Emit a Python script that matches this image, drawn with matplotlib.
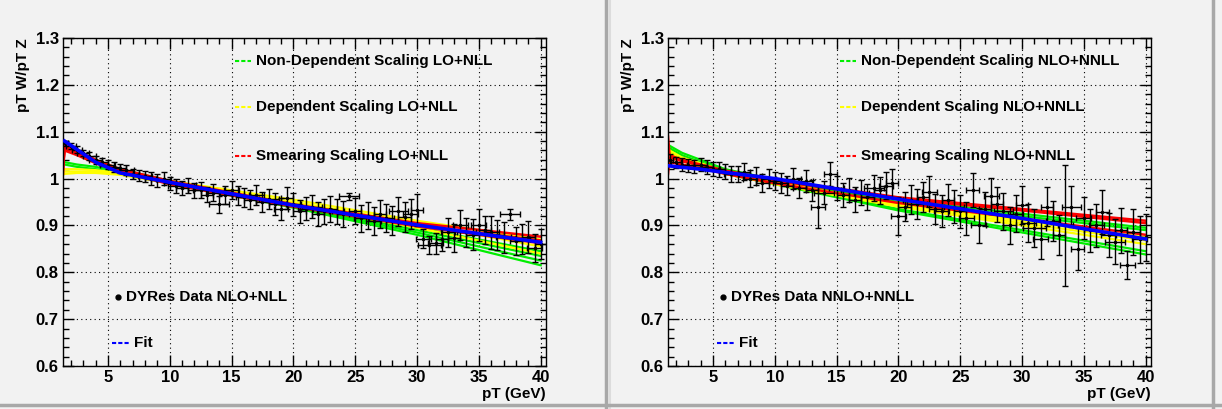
import numpy as np
import matplotlib
matplotlib.use("Agg")
import matplotlib.pyplot as plt
from matplotlib.lines import Line2D
from matplotlib.ticker import MultipleLocator

plt.rcParams['font.family'] = ['Liberation Sans', 'DejaVu Sans']
plt.rcParams['font.weight'] = 'bold'

# ---- data ----
pt = [1.5, 2.0, 2.5, 3.0, 3.5, 4.0, 4.5, 5.0, 5.5, 6.0, 6.5, 7.0, 7.5, 8.0, 8.5, 9.0,
      9.5, 10.0, 10.5, 11.0, 11.5, 12.0, 12.5, 13.0, 13.5, 14.0, 14.5, 15.0, 15.5, 16.0,
      16.5, 17.0, 17.5, 18.0, 18.5, 19.0, 19.5, 20.0, 20.5, 21.0, 21.5, 22.0, 22.5, 23.0,
      23.5, 24.0, 24.5, 25.0, 25.5, 26.0, 26.5, 27.0, 27.5, 28.0, 28.5, 29.0, 29.5, 30.0,
      30.5, 31.0, 31.5, 32.0, 32.5, 33.0, 33.5, 34.0, 34.5, 35.0, 35.5, 36.0, 36.5, 37.0,
      37.5, 38.0, 38.5, 39.0, 39.5, 40.0]
pt_err = [0.3, 0.4, 0.4, 0.5, 0.5, 0.5, 0.5, 0.6, 0.5, 0.5, 0.6, 0.5, 0.5, 0.6, 0.5, 0.5,
          0.6, 0.5, 0.6, 0.5, 0.6, 0.5, 0.6, 0.5, 0.6, 0.8, 0.5, 0.6, 0.5, 0.6,
          0.5, 0.6, 0.5, 0.8, 0.5, 0.6, 0.5, 0.6, 0.5, 0.6, 0.8, 0.5, 0.6, 0.5,
          0.6, 0.5, 0.8, 0.5, 0.6, 0.5, 0.6, 0.5, 0.6, 0.5, 0.8, 0.5, 0.6, 0.5,
          0.6, 0.9, 0.6, 0.5, 0.6, 0.5, 0.6, 0.8, 0.5, 0.6, 0.5, 0.6, 0.5, 0.6,
          0.8, 0.5, 0.6, 0.5, 0.6, 0.5]

nlo_y = [1.075, 1.07, 1.062, 1.055, 1.048, 1.04, 1.035, 1.03, 1.025, 1.022, 1.018, 1.01,
         1.006, 1.005, 1.0, 0.996, 1.0, 0.99, 0.985, 0.98, 0.986, 0.975, 0.976, 0.966,
         0.97, 0.945, 0.965, 0.975, 0.964, 0.96, 0.955, 0.965, 0.95, 0.956, 0.946, 0.935,
         0.958, 0.945, 0.93, 0.936, 0.94, 0.925, 0.93, 0.935, 0.93, 0.924, 0.962, 0.93,
         0.915, 0.921, 0.91, 0.925, 0.915, 0.91, 0.93, 0.918, 0.925, 0.933, 0.872, 0.858,
         0.862, 0.87, 0.885, 0.874, 0.9, 0.885, 0.88, 0.9, 0.89, 0.885, 0.88, 0.875,
         0.924, 0.866, 0.87, 0.876, 0.852, 0.86]
nlo_err = [0.006, 0.006, 0.007, 0.007, 0.008, 0.008, 0.009, 0.009, 0.01, 0.01, 0.011,
           0.011, 0.012, 0.012, 0.013, 0.013, 0.014, 0.014, 0.015, 0.015, 0.016, 0.016,
           0.017, 0.017, 0.018, 0.018, 0.019, 0.019, 0.02, 0.02, 0.021, 0.021, 0.022,
           0.022, 0.023, 0.023, 0.024, 0.024, 0.025, 0.025, 0.025, 0.026, 0.026, 0.027,
           0.027, 0.028, 0.008, 0.028, 0.029, 0.029, 0.03, 0.03, 0.03, 0.031, 0.031, 0.032,
           0.032, 0.035, 0.02, 0.02, 0.022, 0.025, 0.03, 0.03, 0.032, 0.03, 0.033, 0.034,
           0.03, 0.035, 0.032, 0.033, 0.012, 0.03, 0.032, 0.034, 0.03, 0.032]

nnlo_y = [1.04, 1.035, 1.03, 1.028, 1.025, 1.03, 1.025, 1.02, 1.02, 1.015, 1.01, 1.01,
          1.015, 1.0, 1.005, 0.99, 1.0, 0.995, 0.99, 0.985, 1.0, 0.98, 0.995, 0.975,
          0.94, 0.97, 1.01, 0.98, 0.965, 0.975, 0.955, 0.97, 0.96, 0.98, 0.975, 0.985,
          0.99, 0.92, 0.94, 0.955, 0.945, 0.96, 0.972, 0.935, 0.93, 0.955, 0.94, 0.93,
          0.915, 0.975, 0.9, 0.935, 0.963, 0.945, 0.93, 0.9, 0.925, 0.944, 0.905, 0.895,
          0.87, 0.94, 0.91, 0.88, 0.9, 0.94, 0.85, 0.915, 0.89, 0.9, 0.928, 0.88, 0.865,
          0.89, 0.816, 0.885, 0.87, 0.875]
nnlo_err = [0.012, 0.012, 0.013, 0.013, 0.014, 0.014, 0.015, 0.015, 0.016, 0.016, 0.017,
            0.017, 0.018, 0.018, 0.019, 0.019, 0.02, 0.02, 0.021, 0.021, 0.022, 0.022,
            0.023, 0.023, 0.045, 0.024, 0.025, 0.025, 0.026, 0.026, 0.027, 0.027, 0.028,
            0.028, 0.029, 0.029, 0.03, 0.04, 0.031, 0.031, 0.032, 0.032, 0.033, 0.033,
            0.034, 0.034, 0.035, 0.035, 0.036, 0.036, 0.037, 0.037, 0.038, 0.038, 0.039,
            0.039, 0.04, 0.04, 0.041, 0.041, 0.042, 0.042, 0.043, 0.043, 0.13, 0.044,
            0.045, 0.045, 0.046, 0.046, 0.047, 0.047, 0.048, 0.048, 0.03, 0.049, 0.05, 0.05]

# theory curves: values at knots
knots = [1.37, 1.5, 2.5, 4.0, 6.0, 10.0, 20.0, 30.0, 40.0]

lo_green = [
    [1.08, 1.08, 1.06, 1.04, 1.02, 0.995, 0.945, 0.895, 0.845],
    [1.075, 1.07, 1.055, 1.035, 1.018, 0.993, 0.942, 0.89, 0.835],
    [1.04, 1.035, 1.03, 1.025, 1.015, 0.99, 0.94, 0.885, 0.825],
    [1.03, 1.03, 1.025, 1.02, 1.012, 0.99, 0.938, 0.88, 0.815],
]
lo_yellow = [
    [1.02, 1.02, 1.02, 1.018, 1.012, 0.995, 0.955, 0.91, 0.87],
    [1.012, 1.015, 1.015, 1.015, 1.01, 0.992, 0.95, 0.905, 0.855],
    [1.008, 1.01, 1.012, 1.012, 1.008, 0.99, 0.945, 0.895, 0.84],
]
lo_red = [
    [1.01, 1.07, 1.06, 1.04, 1.02, 0.995, 0.945, 0.905, 0.876],
    [1.02, 1.065, 1.055, 1.035, 1.017, 0.99, 0.942, 0.9, 0.868],
    [1.03, 1.06, 1.05, 1.033, 1.015, 0.988, 0.94, 0.898, 0.862],
]
lo_fit = [1.082, 1.08, 1.062, 1.035, 1.012, 0.992, 0.943, 0.901, 0.864]

nlo_green = [
    [1.075, 1.07, 1.055, 1.04, 1.02, 0.998, 0.955, 0.925, 0.895],
    [1.07, 1.065, 1.05, 1.035, 1.017, 0.995, 0.95, 0.92, 0.89],
    [1.065, 1.06, 1.045, 1.03, 1.013, 0.99, 0.935, 0.89, 0.845],
    [1.06, 1.055, 1.04, 1.027, 1.01, 0.988, 0.932, 0.885, 0.838],
]
nlo_yellow = [
    [1.065, 1.06, 1.045, 1.033, 1.015, 0.993, 0.945, 0.91, 0.875],
    [1.06, 1.055, 1.04, 1.03, 1.013, 0.99, 0.942, 0.905, 0.868],
    [1.055, 1.05, 1.037, 1.027, 1.01, 0.988, 0.94, 0.9, 0.86],
]
nlo_red = [
    [1.09, 1.05, 1.04, 1.03, 1.017, 0.998, 0.96, 0.935, 0.91],
    [1.01, 1.045, 1.037, 1.028, 1.015, 0.996, 0.957, 0.932, 0.905],
    [1.03, 1.035, 1.03, 1.022, 1.01, 0.99, 0.948, 0.915, 0.88],
]
nlo_fit = [1.028, 1.027, 1.024, 1.02, 1.013, 1.0, 0.956, 0.915, 0.871]

panels = [
    dict(y=nlo_y, err=nlo_err, green=lo_green, yellow=lo_yellow, red=lo_red, fit=lo_fit,
         labels=['Non-Dependent Scaling LO+NLL', 'Dependent Scaling LO+NLL',
                 'Smearing Scaling LO+NLL', 'DYRes Data NLO+NLL', 'Fit']),
    dict(y=nnlo_y, err=nnlo_err, green=nlo_green, yellow=nlo_yellow, red=nlo_red, fit=nlo_fit,
         labels=['Non-Dependent Scaling NLO+NNLL', 'Dependent Scaling NLO+NNLL',
                 'Smearing Scaling NLO+NNLL', 'DYRes Data NNLO+NNLL', 'Fit']),
]

bg = '#f2f2f2'
fig = plt.figure(figsize=(12.22, 4.09), dpi=100, facecolor=bg)

# pad borders
fig.add_artist(Line2D([606/1222, 606/1222], [0, 1], color='#a8a8a8', lw=2.5))
fig.add_artist(Line2D([610/1222, 610/1222], [0, 1], color='#dcdcdc', lw=1.5))
fig.add_artist(Line2D([1213/1222, 1213/1222], [0, 1], color='#a8a8a8', lw=2.5))
fig.add_artist(Line2D([0, 1], [4/409, 4/409], color='#a8a8a8', lw=2.5))

lefts = [63/1222, 668/1222]
for left, p in zip(lefts, panels):
    ax = fig.add_axes([left, 43/409, 483/1222, 328/409])
    ax.set_facecolor(bg)
    ax.set_xlim(1.37, 40.43)
    ax.set_ylim(0.6, 1.3)

    for ys in p['green']:
        ax.plot(knots, ys, color='#00ee00', lw=1.6)
    for ys in p['yellow']:
        ax.plot(knots, ys, color='#ffff00', lw=1.6)
    for ys in p['red']:
        ax.plot(knots, ys, color='#ff0000', lw=1.8)

    ax.errorbar(pt, p['y'], yerr=p['err'], xerr=pt_err, fmt='o', ms=1.5, color='black',
                ecolor='black', elinewidth=1.0, capsize=2, capthick=1.0, zorder=5)
    ax.plot(knots[1:], p['fit'][1:], color='#0000ff', lw=2.6, zorder=6)

    ax.xaxis.set_major_locator(MultipleLocator(5))
    ax.xaxis.set_minor_locator(MultipleLocator(1))
    ax.yaxis.set_major_locator(MultipleLocator(0.1))
    ax.yaxis.set_minor_locator(MultipleLocator(0.02))
    ax.tick_params(which='both', direction='in', top=True, right=True, width=1.0)
    ax.tick_params(which='major', length=8, labelsize=12, pad=3)
    ax.tick_params(which='minor', length=4)
    ax.set_xticks([5, 10, 15, 20, 25, 30, 35, 40])
    ax.set_xticklabels(['5', '10', '15', '20', '25', '30', '35', '40'], fontweight='bold')
    yt = [0.6, 0.7, 0.8, 0.9, 1.0, 1.1, 1.2, 1.3]
    ax.set_yticks(yt)
    ax.set_yticklabels(['0.6', '0.7', '0.8', '0.9', '1', '1.1', '1.2', '1.3'], fontweight='bold')
    ax.grid(True, which='major', color='black', ls=(0, (1, 3)), lw=0.8)
    for s in ax.spines.values():
        s.set_linewidth(1.0)

    ax.set_xlabel('pT (GeV)', fontsize=11, fontweight='bold', loc='right', labelpad=1)
    ax.set_ylabel('pT W/pT Z', fontsize=11, fontweight='bold', loc='top', labelpad=10)
    ax.yaxis.set_label_coords(-0.068, 1.0)

    # legend entries
    cols = ['#00ee00', '#ffff00', '#ff0000']
    rows = [0.93, 0.79, 0.64]
    for c, r, lab in zip(cols, rows, p['labels'][:3]):
        ax.plot([0.357, 0.39], [r, r], transform=ax.transAxes, color=c, lw=1.5, ls=(0, (2, 1)))
        ax.text(0.399, r, lab, transform=ax.transAxes, fontsize=11, fontweight='bold', va='center')
    ax.plot([0.114], [0.21], 'o', color='black', ms=3.5, transform=ax.transAxes)
    ax.text(0.13, 0.21, p['labels'][3], transform=ax.transAxes, fontsize=11,
            fontweight='bold', va='center')
    ax.plot([0.102, 0.137], [0.07, 0.07], transform=ax.transAxes, color='#0000ff', lw=1.5,
            ls=(0, (2, 1)))
    ax.text(0.147, 0.07, p['labels'][4], transform=ax.transAxes, fontsize=11,
            fontweight='bold', va='center')

fig.savefig('out.png', dpi=100, facecolor=bg)
